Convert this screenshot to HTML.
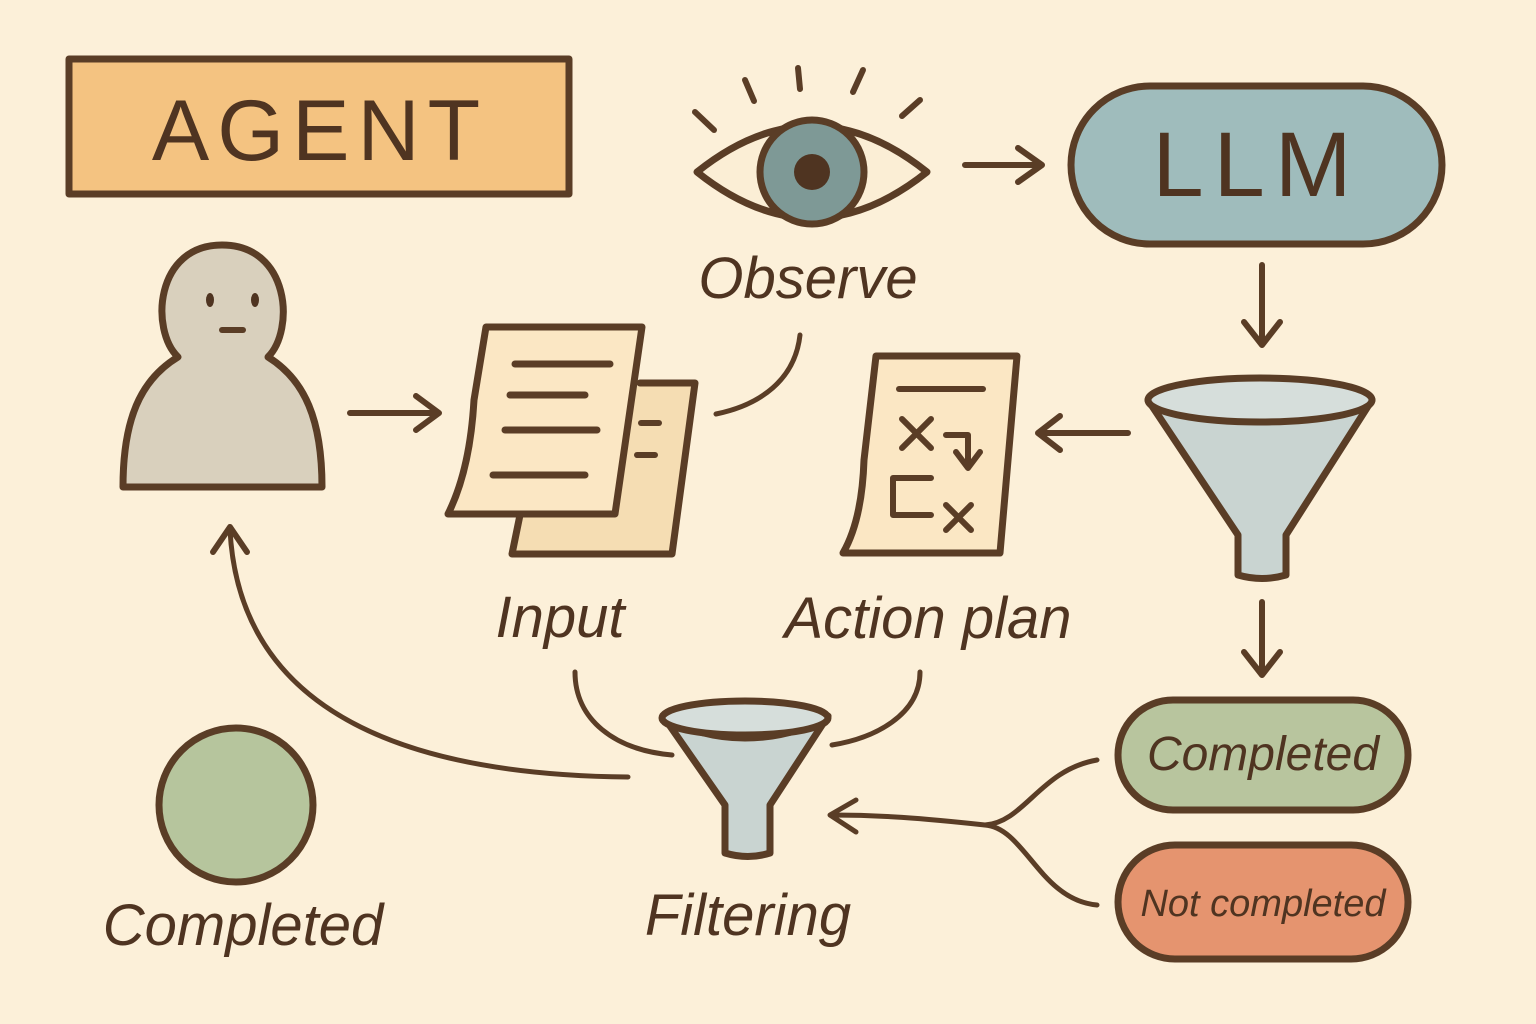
<!DOCTYPE html>
<html><head><meta charset="utf-8"><style>
html,body{margin:0;padding:0;background:#fcf0d9;}
svg{display:block}
.h{font-family:"Liberation Sans",sans-serif;font-style:italic;fill:#4f3421;}
</style></head><body>
<svg width="1536" height="1024" viewBox="0 0 1536 1024" xmlns="http://www.w3.org/2000/svg">
<rect width="1536" height="1024" fill="#fcf0d9"/>
<g stroke="#5a3d26" stroke-width="7" stroke-linecap="round" stroke-linejoin="round">
<rect x="69" y="59" width="500" height="135" fill="#f4c381"/>
<g fill="none" stroke-width="6">
<line x1="695" y1="112" x2="714" y2="130"/><line x1="745" y1="80" x2="754" y2="101"/>
<line x1="798" y1="68" x2="800" y2="89"/><line x1="863" y1="70" x2="853" y2="92"/>
<line x1="920" y1="100" x2="902" y2="116"/>
</g>
<path d="M697 172 Q812 80 927 172 Q812 264 697 172 Z" fill="#fbeed5"/>
<circle cx="812" cy="172" r="52" fill="#7e9996"/>
<circle cx="812" cy="172" r="18" fill="#4f3421" stroke="none"/>
<path d="M965 165 H1040 M1018 148 L1042 165 L1018 182" fill="none" stroke-width="6"/>
<rect x="1071" y="86" width="371" height="158" rx="79" fill="#9fbcbc"/>
<path d="M1262 265 V343 M1244 322 L1262 345 L1280 322" fill="none" stroke-width="6"/>
<path d="M1148 400 Q1200 420 1260 422 Q1330 420 1372 400 L1286 535 L1286 575 Q1262 582 1238 575 L1238 535 Z" fill="#c9d4d1"/>
<ellipse cx="1260" cy="400" rx="112" ry="22" fill="#d6dedb"/>
<path d="M1128 433 H1040 M1060 416 L1038 433 L1060 450" fill="none" stroke-width="6"/>
<path d="M876 356 L1017 356 L1000 553 L843 553 Q862 520 864 460 Z" fill="#fbe7c4"/>
<g fill="none" stroke-width="6">
<line x1="899" y1="389" x2="983" y2="389"/>
<path d="M902 419 L931 448 M931 419 L902 448"/>
<path d="M946 435 H968 V463 M956 452 L968 468 L980 452"/>
<path d="M931 478 H893 V515 H931"/>
<path d="M946 505 L971 530 M971 505 L946 530"/>
</g>
<path d="M640 383 L695 383 L672 554 L512 554 L520 515" fill="#f5ddb3"/>
<g stroke-width="6"><line x1="641" y1="423" x2="659" y2="423"/><line x1="637" y1="455" x2="655" y2="455"/></g>
<path d="M486 327 L642 327 L615 514 L448 514 Q470 470 474 400 Z" fill="#fbe7c4"/>
<g stroke-width="7"><line x1="515" y1="364" x2="610" y2="364"/><line x1="510" y1="395" x2="585" y2="395"/><line x1="505" y1="430" x2="597" y2="430"/><line x1="493" y1="475" x2="585" y2="475"/></g>
<path d="M800 335 C795 380 760 405 716 414" fill="none" stroke-width="5"/>
<path d="M178 357 C150 330 155 245 222 245 C290 245 295 330 268 357 C305 380 322 420 322 487 L123 487 C123 420 140 380 178 357 Z" fill="#d9d0bd"/>
<ellipse cx="210" cy="300" rx="4" ry="7" fill="#4f3421" stroke="none"/>
<ellipse cx="255" cy="300" rx="4" ry="7" fill="#4f3421" stroke="none"/>
<line x1="222" y1="330" x2="243" y2="330" stroke-width="6"/>
<path d="M350 413 H437 M416 396 L439 413 L416 430" fill="none" stroke-width="6"/>
<path d="M575 672 C575 720 615 750 672 755" fill="none" stroke-width="5"/>
<path d="M920 672 C920 715 875 738 832 745" fill="none" stroke-width="5"/>
<path d="M663 716 Q700 738 745 738 Q792 738 828 716 L770 805 L770 853 Q748 860 725 853 L725 805 Z" fill="#c9d4d1"/>
<ellipse cx="745" cy="718" rx="83" ry="17" fill="#d6dedb"/>
<path d="M628 777 C420 775 240 720 230 530" fill="none" stroke-width="5"/>
<path d="M213 552 L230 527 L247 552" fill="none" stroke-width="6"/>
<circle cx="236" cy="805" r="77" fill="#b6c59d"/>
<path d="M1262 602 V673 M1244 652 L1262 675 L1280 652" fill="none" stroke-width="6"/>
<rect x="1118" y="700" width="290" height="110" rx="55" fill="#b8c59e"/>
<rect x="1118" y="845" width="290" height="114" rx="57" fill="#e5946f"/>
<path d="M1097 760 C1040 770 1025 822 985 825 C1025 828 1040 900 1097 905" fill="none" stroke-width="5"/>
<path d="M985 825 C920 818 880 815 832 815 M856 800 L830 815 L856 832" fill="none" stroke-width="5"/>
</g>
<text x="320" y="160" text-anchor="middle" font-family="Liberation Sans, sans-serif" font-size="86" fill="#4f3421" letter-spacing="8">AGENT</text>
<text x="1257" y="196" text-anchor="middle" font-family="Liberation Sans, sans-serif" font-size="92" fill="#4f3421" letter-spacing="10">LLM</text>
<text class="h" x="808" y="298" text-anchor="middle" font-size="58">Observe</text>
<text class="h" x="560" y="637" text-anchor="middle" font-size="58">Input</text>
<text class="h" x="928" y="638" text-anchor="middle" font-size="58">Action plan</text>
<text class="h" x="748" y="935" text-anchor="middle" font-size="58">Filtering</text>
<text class="h" x="243" y="945" text-anchor="middle" font-size="58">Completed</text>
<text class="h" x="1263" y="770" text-anchor="middle" font-size="48">Completed</text>
<text class="h" x="1263" y="916" text-anchor="middle" font-size="38">Not completed</text>
</svg>
</body></html>
